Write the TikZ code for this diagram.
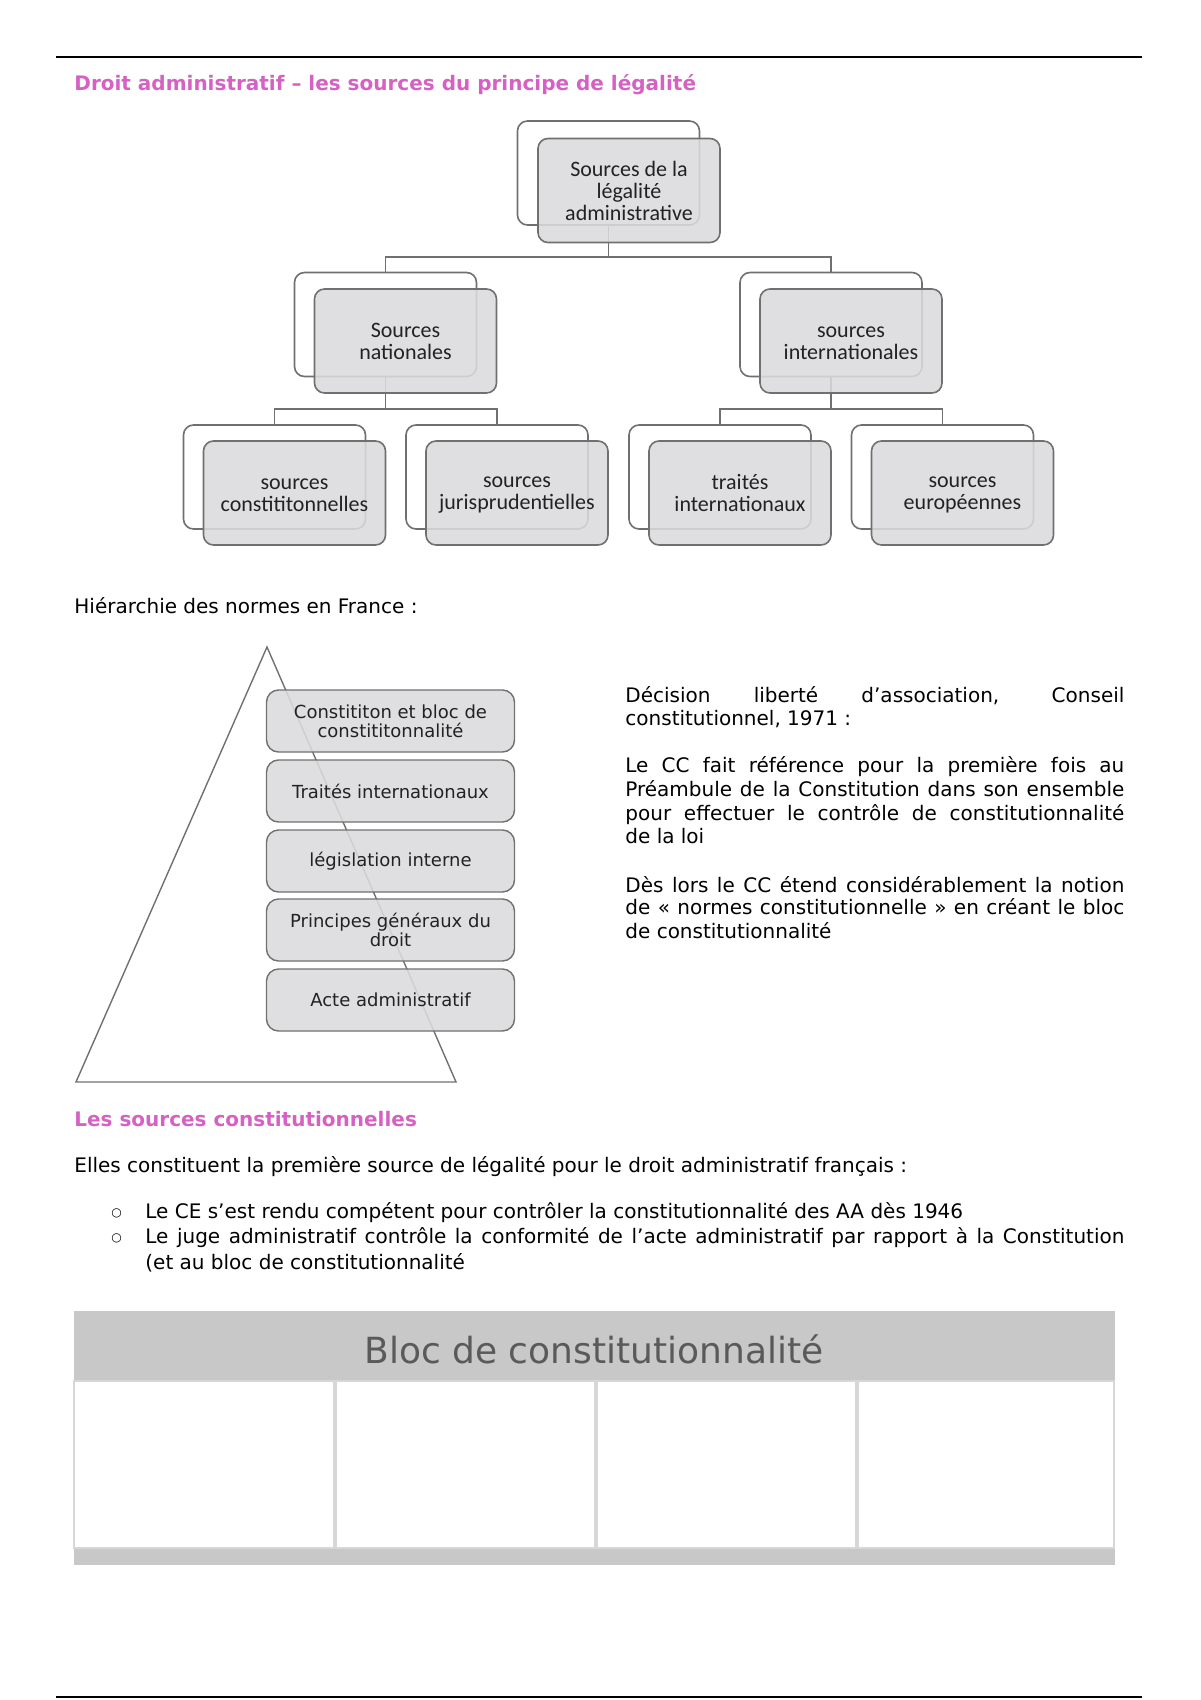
\documentclass[tikz,border=0pt]{standalone}
\usepackage{fontspec}
\setmainfont{DejaVu Sans}
\newfontfamily\calfont{Carlito}
\usetikzlibrary{calc}
\definecolor{pinkt}{RGB}{214,96,196}
\definecolor{boxfill}{RGB}{219,219,221}
\definecolor{boxline}{RGB}{112,112,112}
\definecolor{txt}{RGB}{34,34,34}
\definecolor{tabgray}{RGB}{200,200,200}
\definecolor{tabline}{RGB}{215,215,215}
\definecolor{headtxt}{RGB}{90,90,90}
\begin{document}
\begin{tikzpicture}[x=0.5pt,y=-0.5pt,
  backbox/.style={draw=boxline, line width=0.8pt, fill=white, rounded corners=5pt,
    minimum width=91pt, minimum height=52pt, inner sep=0pt},
  frontbox/.style={draw=boxline, line width=0.8pt, fill=boxfill, fill opacity=0.88,
    text opacity=1, rounded corners=5pt, minimum width=91pt, minimum height=52pt,
    align=center, font=\calfont\fontsize{11}{11}\selectfont, text=txt, inner sep=0pt},
  conn/.style={draw=boxline, line width=0.8pt},
  pyrbox/.style={draw=boxline, line width=0.7pt, fill=boxfill, fill opacity=0.88,
    text opacity=1, rounded corners=6pt, minimum width=124pt, minimum height=31pt,
    align=center, font=\fontsize{9}{9.5}\selectfont, text=txt, inner sep=0pt},
  body/.style={anchor=base west, inner sep=0pt, font=\fontsize{10}{12}\selectfont, text=black},
  head/.style={anchor=base west, inner sep=0pt, font=\bfseries\fontsize{10}{12}\selectfont, text=pinkt},
  rulestyle/.style={line width=1.1pt, draw=black},
]
\useasboundingbox (0,0) rectangle (1200,1700);

% page rules
\coordinate (r1a) at (56,57); \coordinate (r1b) at (1142,57);
\coordinate (r2a) at (56,1697); \coordinate (r2b) at (1142,1697);
\draw[rulestyle] (r1a) -- (r1b);
\draw[rulestyle] (r2a) -- (r2b);

% title
\node[head] (title) at (74,91) {Droit administratif – les sources du principe de légalité};

% ---------- org chart: back boxes ----------
\node[backbox] (top) at (608.5,173) {};
\node[backbox] (nat) at (385.5,324.5) {};
\node[backbox] (int) at (831,324.5) {};
\node[backbox] (l1) at (274.5,477) {};
\node[backbox] (l2) at (497,477) {};
\node[backbox] (l3) at (720,477) {};
\node[backbox] (l4) at (942.5,477) {};

% connectors
\draw[conn] (top.south) -- (top.south |- 0,257) -| (nat.north);
\draw[conn] (top.south |- 0,257) -| (int.north);
\draw[conn] (nat.south) -- (nat.south |- 0,409) -| (l1.north);
\draw[conn] (nat.south |- 0,409) -| (l2.north);
\draw[conn] (int.south) -- (int.south |- 0,409) -| (l3.north);
\draw[conn] (int.south |- 0,409) -| (l4.north);

% front boxes
\node[frontbox] (topf) at (629,190.5) {Sources de la\\légalité\\administrative};
\node[frontbox] (natf) at (405.5,341) {Sources\\nationales};
\node[frontbox] (intf) at (851,341) {sources\vphantom{l}\\internationales};
\node[frontbox] (l1f) at (294.5,493) {sources\vphantom{l}\\constititonnelles};
\node[frontbox] (l2f) at (517,493) {sources\vphantom{l}\\jurisprudentielles};
\node[frontbox] (l3f) at (740,493) {traités\\internationaux};
\node[frontbox] (l4f) at (962.5,493) {sources\vphantom{l}\\européennes};

% ---------- hierarchy ----------
\node[body] (hier) at (74,613) {Hiérarchie des normes en France :};

\coordinate (apex) at (267,647);
\coordinate (bl) at (76,1082);
\coordinate (br) at (456,1082);
\draw[draw=boxline, line width=0.7pt] (apex) -- (bl) -- (br) -- cycle;

\node[pyrbox] (p1) at (390.5,721) {Constititon et bloc de\\constititonnalité};
\node[pyrbox] (p2) at (390.5,791) {Traités internationaux};
\node[pyrbox] (p3) at (390.5,861) {législation interne};
\node[pyrbox] (p4) at (390.5,930) {Principes généraux du\\droit};
\node[pyrbox] (p5) at (390.5,1000) {Acte administratif};

% right paragraph
\node[body] (q1) at (625,702) {\makebox[249.5pt][s]{Décision liberté d’association, Conseil}};
\node[body] (q2) at (625,725) {constitutionnel, 1971 :};
\node[body] (q3) at (625,772) {\makebox[249.5pt][s]{Le CC fait référence pour la première fois au}};
\node[body] (q4) at (625,796) {\makebox[249.5pt][s]{Préambule de la Constitution dans son ensemble}};
\node[body] (q5) at (625,820) {\makebox[249.5pt][s]{pour effectuer le contrôle de constitutionnalité}};
\node[body] (q6) at (625,843) {de la loi};
\node[body] (q7) at (625,892) {\makebox[249.5pt][s]{Dès lors le CC étend considérablement la notion}};
\node[body] (q8) at (625,914) {\makebox[249.5pt][s]{de « normes constitutionnelle » en créant le bloc}};
\node[body] (q9) at (625,938) {de constitutionnalité};

% ---------- sources constitutionnelles ----------
\node[head] (h2) at (74,1126) {Les sources constitutionnelles};
\node[body] (e1) at (74,1172) {Elles constituent la première source de légalité pour le droit administratif français :};
\node[body, font=\fontsize{6}{6}\selectfont] (b1) at (111,1216) {○};
\node[body, font=\fontsize{6}{6}\selectfont] (b2) at (111,1241) {○};
\node[body] (e2) at (145,1218) {Le CE s’est rendu compétent pour contrôler la constitutionnalité des AA dès 1946};
\node[body] (e3) at (145,1243) {\makebox[489.5pt][s]{Le juge administratif contrôle la conformité de l’acte administratif par rapport à la Constitution}};
\node[body] (e4) at (145,1269) {(et au bloc de constitutionnalité};

% ---------- table ----------
\fill[tabgray] (74,1311) rectangle (1115,1565);
\draw[draw=tabline, line width=0.6pt, fill=white] (74,1381) rectangle (334,1548);
\draw[draw=tabline, line width=0.6pt, fill=white] (336,1381) rectangle (595,1548);
\draw[draw=tabline, line width=0.6pt, fill=white] (597,1381) rectangle (856,1548);
\draw[draw=tabline, line width=0.6pt, fill=white] (858,1381) rectangle (1114,1548);
\node[inner sep=0pt, font=\fontsize{18}{20}\selectfont, text=headtxt] (bloc) at (594,1349) {Bloc de constitutionnalité};
\end{tikzpicture}
\end{document}
